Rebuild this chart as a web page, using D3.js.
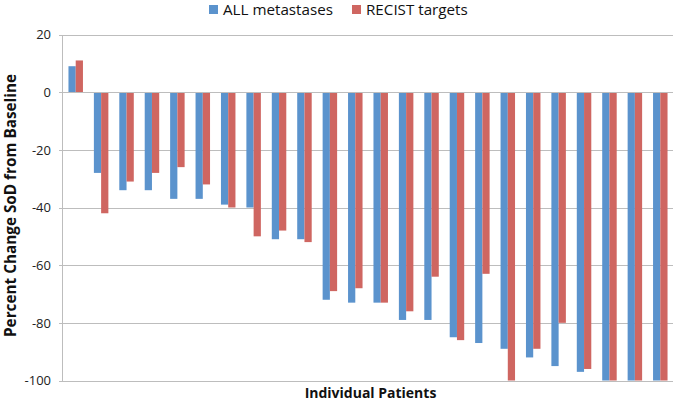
<!DOCTYPE html>
<html>
<head>
<meta charset="utf-8">
<script src="https://cdn.jsdelivr.net/npm/d3@7"></script>
<style>
  html, body { margin: 0; padding: 0; background: #fff; }
  svg { display: block; font-family: "Open Sans", Lato, sans-serif; }
</style>
</head>
<body>
<svg id="chart" width="677" height="403"></svg>
<script>
const patients = d3.range(1, 25).map(i => "P" + i);
const allMetastases = [9, -28, -34, -34, -37, -37, -39, -40, -51, -51, -72, -73, -73, -79, -79, -85, -87, -89, -92, -95, -97, -100, -100, -100];
const recistTargets = [11, -42, -31, -28, -26, -32, -40, -50, -48, -52, -69, -68, -73, -76, -64, -86, -63, -100, -89, -80, -96, -100, -100, -100];
const seriesNames = ["ALL metastases", "RECIST targets"];
const seriesColors = ["#5b93cd", "#cf6661"];
const yTicks = [20, 0, -20, -40, -60, -80, -100];

const svg = d3.select("#chart");

const y = d3.scaleLinear().domain([-100, 20]).range([380.5, 34.5]);
const x0 = d3.scaleBand().domain(patients).range([63, 673]).paddingInner(0.43).paddingOuter(0.215);
const x1 = d3.scaleBand().domain(seriesNames).range([0, x0.bandwidth()]);

// gridlines (with tick stubs)
svg.append("g")
  .selectAll("line")
  .data(yTicks)
  .join("line")
  .attr("x1", 59).attr("x2", 673)
  .attr("y1", d => Math.round(y(d)) + 0.5).attr("y2", d => Math.round(y(d)) + 0.5)
  .attr("stroke", "#bdbdbd").attr("stroke-width", 1);

// y axis line
svg.append("line")
  .attr("x1", 62.5).attr("x2", 62.5)
  .attr("y1", Math.round(y(20)) + 0.5).attr("y2", Math.round(y(-100)) + 0.5)
  .attr("stroke", "#bdbdbd");

// tick labels
svg.append("g")
  .selectAll("text")
  .data(yTicks)
  .join("text")
  .attr("x", 51).attr("y", d => y(d))
  .attr("dy", "0.36em")
  .attr("text-anchor", "end")
  .attr("font-size", 13)
  .attr("fill", "#222")
  .text(d => d);

// bars
const data = [allMetastases, recistTargets];
const groups = svg.append("g")
  .selectAll("g")
  .data(patients)
  .join("g")
  .attr("transform", d => `translate(${x0(d)},0)`);

groups.selectAll("rect")
  .data((p, i) => seriesNames.map((s, k) => ({ s, k, v: data[k][i] })))
  .join("rect")
  .attr("x", d => x1(d.s))
  .attr("width", x1.bandwidth())
  .attr("y", d => Math.min(y(0), y(d.v)))
  .attr("height", d => Math.abs(y(d.v) - y(0)))
  .attr("fill", d => seriesColors[d.k]);

// zero line over bars
svg.append("line")
  .attr("x1", 62.5).attr("x2", 673)
  .attr("y1", Math.round(y(0)) + 0.5).attr("y2", Math.round(y(0)) + 0.5)
  .attr("stroke", "#bdbdbd");

// axis titles
svg.append("text")
  .attr("transform", `translate(15.5, 205.5) rotate(-90)`)
  .attr("text-anchor", "middle")
  .attr("font-size", 15.3)
  .attr("font-weight", "bold")
  .attr("fill", "#111")
  .text("Percent Change SoD from Baseline");

svg.append("text")
  .attr("x", 370.5).attr("y", 398)
  .attr("text-anchor", "middle")
  .attr("font-size", 14)
  .attr("font-weight", "bold")
  .attr("fill", "#111")
  .text("Individual Patients");

// legend
const legendX = [209, 352];
const lg = svg.append("g")
  .selectAll("g")
  .data(seriesNames)
  .join("g")
  .attr("transform", (d, i) => `translate(${legendX[i]}, 0)`);
lg.append("rect").attr("y", 5).attr("width", 9).attr("height", 9).attr("fill", (d, i) => seriesColors[i]);
lg.append("text").attr("x", 14).attr("y", 15.3)
  .attr("font-size", 15.2).attr("fill", "#111").text(d => d);
</script>
</body>
</html>
